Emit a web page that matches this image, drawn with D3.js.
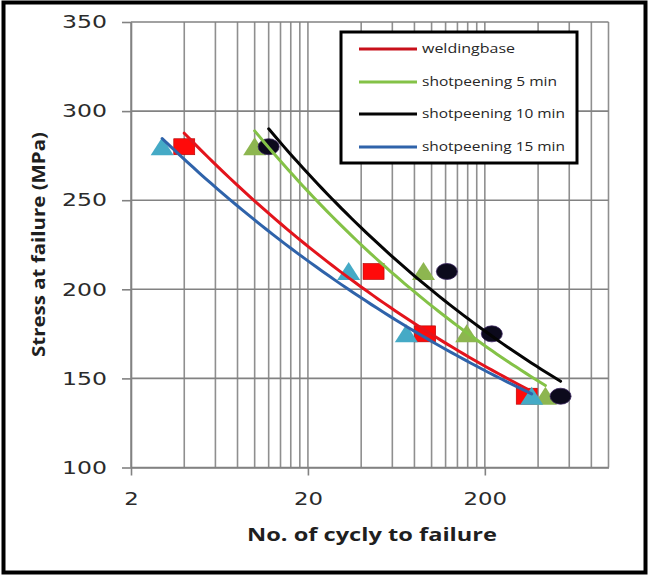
<!DOCTYPE html>
<html>
<head>
<meta charset="utf-8">
<script src="https://cdn.jsdelivr.net/npm/d3@7/dist/d3.min.js"></script>
<style>
  html, body { margin: 0; padding: 0; background: #fff; }
  svg { display: block; }
</style>
</head>
<body>
<script>
// S-N fatigue data: stress level at failure vs. number of cycles
const seriesNames = ["weldingbase", "shotpeening 5 min", "shotpeening 10 min", "shotpeening 15 min"];
const stressLevels = [280, 210, 175, 140];
const cyclesWeldingBase = [4, 47, 92, 345];
const cyclesShot5 = [10, 90, 158, 440];
const cyclesShot10 = [12, 122, 219, 536];
const cyclesShot15 = [3, 34, 72, 368];
const yTickValues = [100, 150, 200, 250, 300, 350];
const xTickLabels = [2, 20, 200];
const xDomain = [2, 1000];
const yDomain = [100, 350];

const W = 649, H = 576;
const M = { left: 131, right: 608.5, top: 22, bottom: 467.5 };

const svg = d3.select("body").append("svg")
  .attr("width", W).attr("height", H);

svg.append("rect").attr("width", W).attr("height", H).attr("fill", "#fff");

const x = d3.scaleLog().domain(xDomain).range([M.left, M.right]);
const y = d3.scaleLinear().domain(yDomain).range([M.bottom, M.top]);

// vertical grid: 2,4,...,18, 20,40,...,180, 200,400,...,1000
const xGrid = [];
xTickLabels.forEach(base => {
  for (let k = 1; k <= 9; k++) {
    const v = base * k;
    if (v <= xDomain[1]) xGrid.push(v);
  }
});
const gridColor = "#8f8f8f";
const grid = svg.append("g");
grid.selectAll("line.vx").data(xGrid).join("line")
  .attr("x1", d => x(d)).attr("x2", d => x(d))
  .attr("y1", M.top).attr("y2", M.bottom)
  .attr("stroke", gridColor).attr("stroke-width", 1.6);
grid.selectAll("line.hy").data(yTickValues).join("line")
  .attr("x1", M.left).attr("x2", M.right)
  .attr("y1", d => y(d)).attr("y2", d => y(d))
  .attr("stroke", "#828282").attr("stroke-width", 1.6);

// axes
const tickFont = "'DejaVu Sans', sans-serif";
const yAxis = svg.append("g").attr("transform", `translate(${M.left},0)`)
  .call(d3.axisLeft(y).tickValues(yTickValues).tickSize(9).tickSizeOuter(0).tickPadding(15));
yAxis.select(".domain").attr("stroke", "#828282").attr("stroke-width", 1.6);
yAxis.selectAll(".tick line").attr("stroke", "#828282").attr("stroke-width", 1.6);
yAxis.selectAll(".tick text")
  .attr("font-family", tickFont).attr("font-size", 18).attr("fill", "#2b2b2b")
  .attr("textLength", 45).attr("lengthAdjust", "spacingAndGlyphs");

const xAxis = svg.append("g").attr("transform", `translate(0,${M.bottom})`)
  .call(d3.axisBottom(x).tickValues(xTickLabels).tickFormat(d3.format("d"))
    .tickSize(8).tickSizeOuter(0));
xAxis.select(".domain").attr("stroke", "#828282").attr("stroke-width", 1.6);
xAxis.selectAll(".tick line").attr("stroke", "#828282").attr("stroke-width", 1.6);
xAxis.selectAll(".tick text")
  .attr("font-family", tickFont).attr("font-size", 18).attr("fill", "#2b2b2b")
  .attr("y", 37).attr("dy", 0)
  .each(function(d) {
    const n = String(d).length;
    d3.select(this).attr("textLength", n * 14.5).attr("lengthAdjust", "spacingAndGlyphs");
  });

// axis titles
const titleFont = "'Open Sans', sans-serif";
svg.append("text")
  .attr("x", 372).attr("y", 541)
  .attr("text-anchor", "middle")
  .attr("font-family", titleFont).attr("font-weight", "bold").attr("font-size", 17)
  .attr("fill", "#1f1f1f")
  .attr("textLength", 250).attr("lengthAdjust", "spacingAndGlyphs")
  .text("No. of cycly  to failure");
svg.append("text")
  .attr("transform", "translate(45,244.5) rotate(-90)")
  .attr("text-anchor", "middle")
  .attr("font-family", titleFont).attr("font-weight", "bold").attr("font-size", 17)
  .attr("fill", "#1f1f1f")
  .attr("textLength", 225).attr("lengthAdjust", "spacingAndGlyphs")
  .text("Stress at failure (MPa)");

// series definitions
const series = [
  { name: seriesNames[0], cycles: cyclesWeldingBase, marker: "square",   fill: "#ff0a0a", line: "#e3141c" },
  { name: seriesNames[1], cycles: cyclesShot5,       marker: "triangle", fill: "#8db650", line: "#84c247" },
  { name: seriesNames[2], cycles: cyclesShot10,      marker: "circle",   fill: "#0c0a1c", line: "#050505" },
  { name: seriesNames[3], cycles: cyclesShot15,      marker: "triangle", fill: "#45aac6", line: "#2f63aa" }
];

// markers
const markers = svg.append("g");
series.forEach(s => {
  const pts = s.cycles.map((n, i) => [n, stressLevels[i]]);
  const g = markers.append("g");
  if (s.marker === "square") {
    g.selectAll("rect").data(pts).join("rect")
      .attr("x", d => x(d[0]) - 10.5).attr("y", d => y(d[1]) - 8)
      .attr("width", 21).attr("height", 16)
      .attr("fill", s.fill).attr("stroke", "#b00000").attr("stroke-width", 0.6);
  } else if (s.marker === "triangle") {
    g.selectAll("path").data(pts).join("path")
      .attr("d", d => {
        const cx = x(d[0]), cy = y(d[1]);
        return `M${cx},${cy - 9.5}L${cx + 11.5},${cy + 8.5}L${cx - 11.5},${cy + 8.5}Z`;
      })
      .attr("fill", s.fill);
  } else {
    g.selectAll("ellipse").data(pts).join("ellipse")
      .attr("cx", d => x(d[0])).attr("cy", d => y(d[1]))
      .attr("rx", 10.5).attr("ry", 8)
      .attr("fill", s.fill).attr("stroke", "#3a2460").attr("stroke-width", 0.8);
  }
});

// power-law trend lines (least squares in log-log space), drawn over the data range
function powerFit(ns, ss) {
  const lx = ns.map(Math.log), ly = ss.map(Math.log);
  const mx = d3.mean(lx), my = d3.mean(ly);
  const b = d3.sum(lx, (v, i) => (v - mx) * (ly[i] - my)) / d3.sum(lx, v => (v - mx) ** 2);
  const a = Math.exp(my - b * mx);
  return n => a * Math.pow(n, b);
}
const lineGen = d3.line().x(d => x(d[0])).y(d => y(d[1]));
const trends = svg.append("g");
series.forEach(s => {
  const f = powerFit(s.cycles, stressLevels);
  const [n0, n1] = d3.extent(s.cycles);
  const samples = d3.range(0, 61).map(i => {
    const n = Math.exp(Math.log(n0) + (Math.log(n1) - Math.log(n0)) * i / 60);
    return [n, f(n)];
  });
  trends.append("path").datum(samples)
    .attr("d", lineGen).attr("fill", "none")
    .attr("stroke", s.line).attr("stroke-width", 3)
    .attr("stroke-linecap", "round");
});

// legend
const legend = svg.append("g");
legend.append("rect")
  .attr("x", 341).attr("y", 32).attr("width", 236).attr("height", 131)
  .attr("fill", "#fff").attr("stroke", "#000").attr("stroke-width", 3);
const legendRowY = [49, 82, 114, 147];
const legendTextLen = [93, 135, 143, 143];
series.forEach((s, i) => {
  legend.append("line")
    .attr("x1", 359).attr("x2", 417)
    .attr("y1", legendRowY[i]).attr("y2", legendRowY[i])
    .attr("stroke", i === 0 ? "#c8101a" : s.line).attr("stroke-width", 3);
  legend.append("text")
    .attr("x", 422).attr("y", legendRowY[i] + 4)
    .attr("font-family", "'Open Sans', sans-serif").attr("font-size", 12)
    .attr("fill", "#262626")
    .attr("textLength", legendTextLen[i]).attr("lengthAdjust", "spacingAndGlyphs")
    .text(s.name);
});

// outer frame
svg.append("rect")
  .attr("x", 3.5).attr("y", 2.5).attr("width", W - 7).attr("height", H - 6)
  .attr("fill", "none").attr("stroke", "#000").attr("stroke-width", 4);
</script>
</body>
</html>
